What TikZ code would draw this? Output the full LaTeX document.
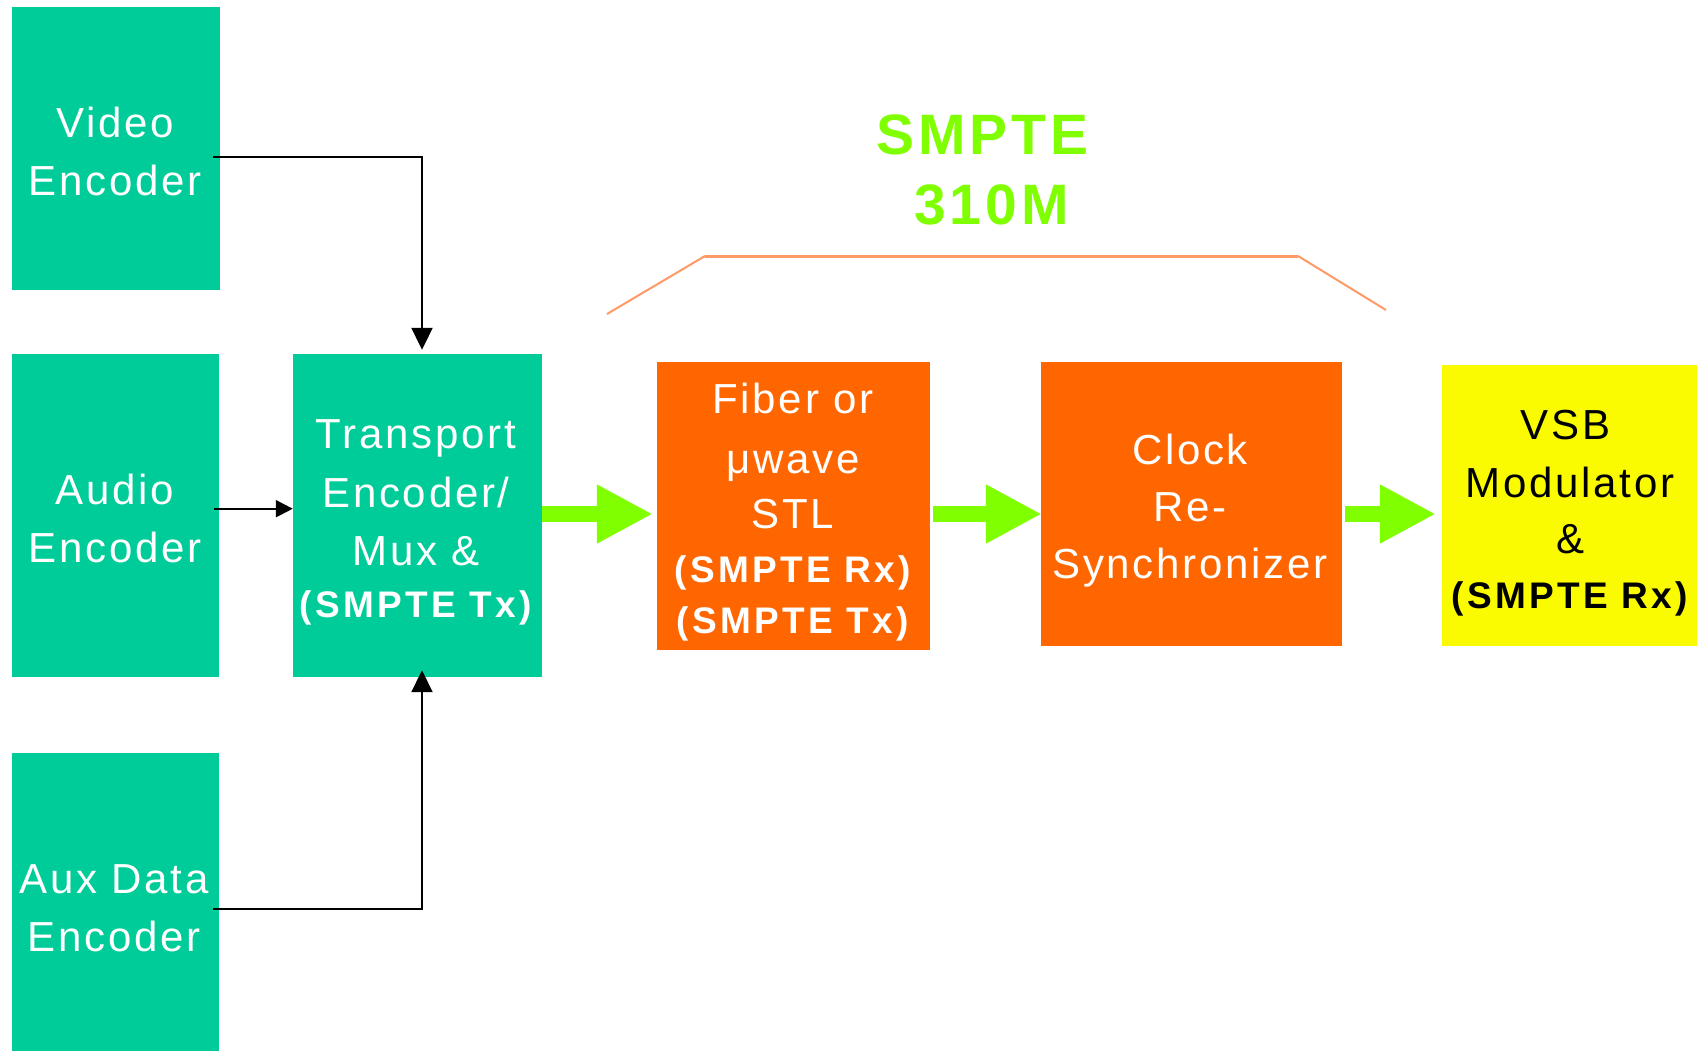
\documentclass[tikz,border=0pt]{standalone}
\usepackage{fontspec}
\setmainfont{Liberation Sans}
\usetikzlibrary{arrows.meta,calc}
\newfontfamily\regf{Liberation Sans}[LetterSpace=6.5]
\newfontfamily\bldf{Liberation Sans}[LetterSpace=9]
\newfontfamily\titf{Liberation Sans}[LetterSpace=7]
\definecolor{tealbox}{HTML}{00CC99}
\definecolor{orangebox}{HTML}{FF6600}
\definecolor{yellowbox}{HTML}{FAFA00}
\definecolor{lgreen}{HTML}{80FF00}
\definecolor{salmon}{HTML}{FF9966}
\newcommand{\rg}{\regf\fontsize{42}{58}\selectfont}
\newcommand{\bd}{\bldf\bfseries\fontsize{37}{58}\selectfont}
\newcommand{\ttl}{\titf\bfseries\fontsize{57}{70}\selectfont}
\tikzset{
  box/.style={rectangle, inner sep=0pt, draw=none},
  txt/.style={anchor=base, inner sep=0pt},
  conn/.style={draw=black, line width=2pt, -{Triangle[length=22pt,width=21pt]}},
  connsmall/.style={draw=black, line width=2pt, -{Triangle[length=17pt,width=17pt]}},
  garrow/.style={draw=lgreen, line width=16pt, -{Triangle[length=56pt,width=55pt]}},
  bracket/.style={draw=salmon, line width=2pt}
}
\begin{document}
\begin{tikzpicture}[x=1pt,y=-1pt]
\useasboundingbox (0,0) rectangle (1697,1050);
\clip (0,0) rectangle (1697,1050);
% boxes
\node[box, fill=tealbox, minimum width=208.5pt, minimum height=283.5pt] (vid) at (115.75,148.25) {};
\node[box, fill=tealbox, minimum width=207pt, minimum height=323pt] (aud) at (115,515.5) {};
\node[box, fill=tealbox, minimum width=207pt, minimum height=320pt] (aux) at (115,913) {};
\node[box, fill=tealbox, minimum width=249pt, minimum height=323pt] (trans) at (417.5,515.5) {};
\node[box, fill=orangebox, minimum width=273pt, minimum height=288pt] (fiber) at (793.5,505.5) {};
\node[box, fill=orangebox, minimum width=301pt, minimum height=284.5pt] (clock) at (1191.5,503.75) {};
\node[box, fill=yellowbox, minimum width=258pt, minimum height=281.5pt] (vsb) at (1571,505.25) {};
% texts
\node[txt, text=white] (vidt) at (115,137) {\rg\begin{tabular}[t]{@{}c@{}}Video\\Encoder\end{tabular}};
\node[txt, text=white] (audt) at (115,504) {\rg\begin{tabular}[t]{@{}c@{}}Audio\\Encoder\end{tabular}};
\node[txt, text=white] (auxt) at (114,893) {\rg\begin{tabular}[t]{@{}c@{}}Aux Data\\Encoder\end{tabular}};
\node[txt, text=white] (transt) at (416,448) {\rg\begin{tabular}[t]{@{}c@{}}Transport\\[1pt]Encoder/\\Mux \&\\[-6pt]\bd (SMPTE Tx)\end{tabular}};
\node[txt, text=white] (fibert) at (793,413) {\rg\begin{tabular}[t]{@{}c@{}}Fiber or\\[2pt]μwave\\[-3pt]STL\\[-4pt]\bd (SMPTE Rx)\\[-7pt]\bd (SMPTE Tx)\end{tabular}};
\node[txt, text=white] (clockt) at (1190,464) {\rg\begin{tabular}[t]{@{}c@{}}Clock\\[-1pt]Re-\\[-1pt]Synchronizer\end{tabular}};
\node[txt, text=black] (vsbt) at (1570,439) {\rg\begin{tabular}[t]{@{}c@{}}VSB\hspace*{9pt}\\Modulator\\[-2pt]\&\\[-3pt]\bd (SMPTE Rx)\end{tabular}};
\node[txt, text=lgreen] (title) at (991.5,154) {\ttl\begin{tabular}[t]{@{}c@{}}SMPTE\hspace*{18pt}\\310M\end{tabular}};
% bracket
\coordinate (b1) at (607,314);
\coordinate (b2) at (705,256);
\coordinate (b3) at (1298,256);
\coordinate (b4) at (1386,310);
\draw[bracket] (b1) -- (b2);
\draw[bracket, line width=3pt] (b2) -- (b3);
\draw[bracket] (b3) -- (b4);
% black connectors
\coordinate (v0) at (213,157);
\coordinate (a0) at (214,508.7);
\coordinate (x0) at (213,909);
\draw[conn] (v0) -| ($(trans.north)+(4.5,-4)$);
\draw[connsmall] (a0) -- (trans.west |- a0);
\draw[conn] (x0) -| ($(trans.south)+(4.5,-7)$);
% green arrows
\coordinate (gy) at (0,514);
\draw[garrow, shorten >=4pt] (trans.east |- gy) -- (fiber.west |- gy);
\draw[garrow, shorten <=3pt, shorten >=-1pt] (fiber.east |- gy) -- (clock.west |- gy);
\draw[garrow, shorten <=3pt, shorten >=6pt] (clock.east |- gy) -- (vsb.west |- gy);
\end{tikzpicture}
\end{document}
